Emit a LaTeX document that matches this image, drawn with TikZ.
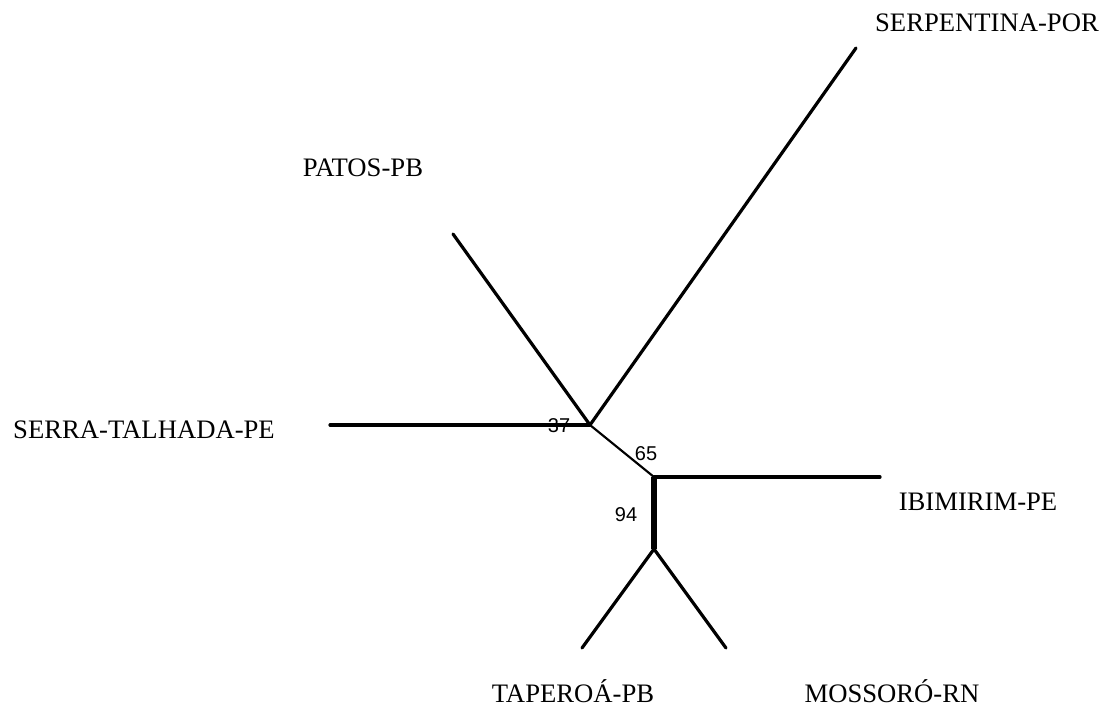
\documentclass[tikz,border=0pt]{standalone}
\usepackage{fontspec}
\setmainfont{Liberation Serif}
\newfontfamily\numfont{Liberation Sans}
\usepackage{tikz}
\tikzstyle{junc}=[circle,inner sep=0pt,minimum size=0pt]
\tikzstyle{taxon}=[font=\fontsize{20}{24}\selectfont,inner sep=0pt,anchor=base]
\tikzstyle{boot}=[font=\numfont\fontsize{15}{17}\selectfont,inner sep=0pt]
\tikzstyle{branch}=[line width=2.4pt,line cap=round]
\newcommand{\treescale}{0.75pt}

\begin{document}
\begin{tikzpicture}[x=\treescale,y=-\treescale]
    \useasboundingbox (0,0) rectangle (1104,708);
    % inner nodes
    \node[junc] (j1) at (590,425) {};
    \node[junc] (j2) at (654,477) {};
    \node[junc] (j3) at (654,549) {};
    % leaf ends
    \coordinate (serra) at (330,425);
    \coordinate (patos) at (453,234);
    \coordinate (serp)  at (856,48);
    \coordinate (ibim)  at (880,477);
    \coordinate (taper) at (582,648);
    \coordinate (moss)  at (726,648);
    % branches
    \draw[branch] (j1) -- (serra);
    \draw[branch] (j1) -- (patos);
    \draw[branch] (j1) -- (serp);
    \draw[branch,line width=1.6pt] (j1) -- (j2);
    \draw[branch] (j2) -- (ibim);
    \draw[branch,line width=4.2pt,line cap=butt] (j2) -- (j3);
    \draw[branch] (j3) -- (taper);
    \draw[branch] (j3) -- (moss);
    % taxa
    \node[taxon] (tserp)  at (987,31)  {SERPENTINA-POR};
    \node[taxon] (tpatos) at (363,176) {PATOS-PB};
    \node[taxon] (tserra) at (144,438) {SERRA-TALHADA-PE};
    \node[taxon] (tibim)  at (978,510) {IBIMIRIM-PE};
    \node[taxon] (ttaper) at (573,702) {TAPEROÁ-PB};
    \node[taxon] (tmoss)  at (892,702) {MOSSORÓ-RN};
    % bootstrap values
    \node[boot] (b37) at (559,426) {37};
    \node[boot] (b65) at (646,454) {65};
    \node[boot] (b94) at (626,515) {94};
\end{tikzpicture}
\end{document}
